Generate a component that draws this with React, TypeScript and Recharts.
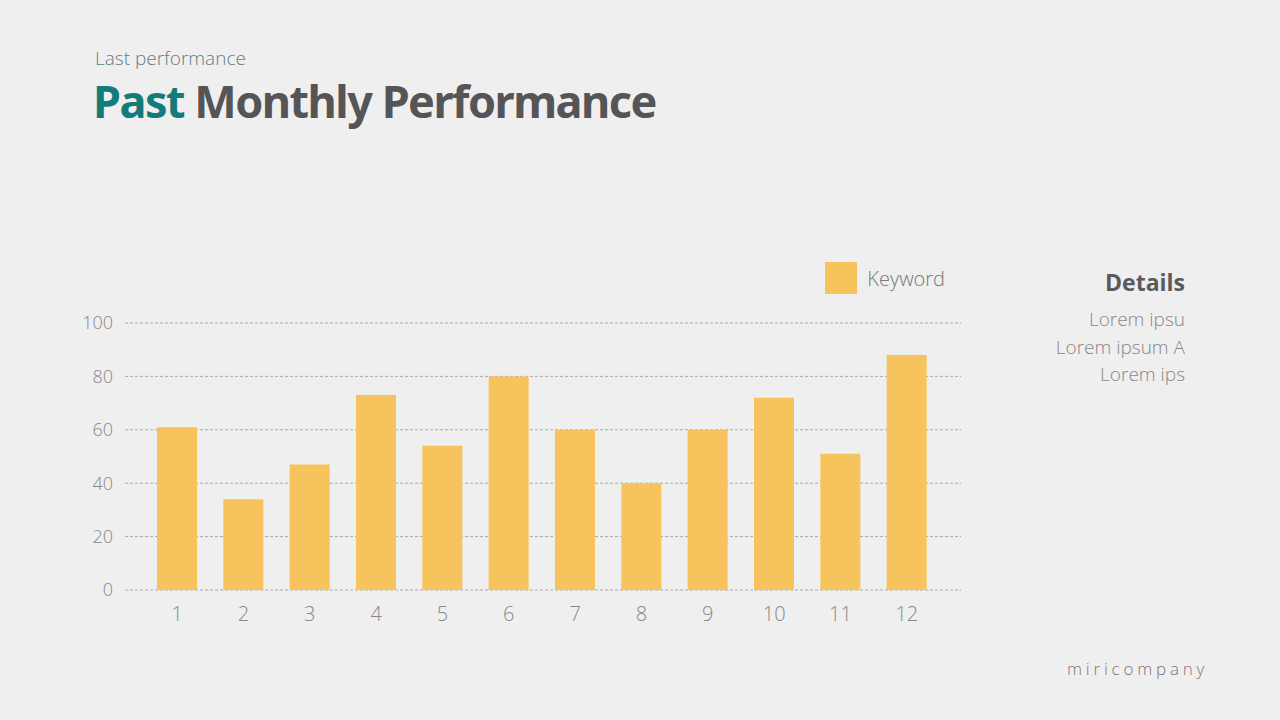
import React from "react";
import { BarChart, Bar, XAxis, YAxis, CartesianGrid, Legend } from "recharts";

const months = ["1", "2", "3", "4", "5", "6", "7", "8", "9", "10", "11", "12"];
const keywordValues = [61, 34, 47, 73, 54, 80, 60, 40, 60, 72, 51, 88];
const yTicks = [0, 20, 40, 60, 80, 100];
const detailLines = ["Lorem ipsu", "Lorem ipsum A", "Lorem ips"];

const data = months.map((m, i) => ({ month: m, Keyword: keywordValues[i] }));

const FONT = "'Open Sans', 'Noto Sans', sans-serif";

const LegendContent = (props: any) => {
  const items = props.payload || [];
  return (
    <div style={{ display: "flex", alignItems: "center", justifyContent: "flex-end", height: 32 }}>
      {items.map((it: any) => (
        <div key={it.value} style={{ display: "flex", alignItems: "center" }}>
          <div style={{ width: 32, height: 32, background: it.color, marginRight: 10 }} />
          <span style={{ fontFamily: FONT, fontWeight: 300, fontSize: 20, color: "#777" }}>{it.value}</span>
        </div>
      ))}
    </div>
  );
};

export default function App() {
  return (
    <div
      style={{
        position: "fixed",
        left: 0,
        top: 0,
        width: 1280,
        height: 720,
        background: "#efeff0",
        fontFamily: FONT,
        overflow: "hidden",
      }}
    >
      <div style={{ position: "absolute", left: 95, top: 45, fontSize: 19, fontWeight: 300, color: "#5f7f7f" }}>
        Last performance
      </div>
      <div
        style={{
          position: "absolute",
          left: 93,
          top: 70,
          fontSize: 45,
          fontWeight: 700,
          color: "#555557",
          fontFamily: "'Noto Sans', sans-serif",
          letterSpacing: -1.5,
          whiteSpace: "nowrap",
        }}
      >
        <span style={{ color: "#137b79" }}>Past</span> Monthly Performance
      </div>

      <div style={{ position: "absolute", left: 0, top: 0 }}>
        <BarChart
          width={1000}
          height={650}
          data={data}
          margin={{ top: 291, right: 39, bottom: 30, left: 85 }}
        >
          <CartesianGrid horizontal vertical={false} stroke="#a8a8a8" strokeDasharray="3 2" />
          <XAxis
            dataKey="month"
            axisLine={false}
            tickLine={false}
            padding={{ left: 19, right: 21 }}
            tick={{ fill: "#888", fontSize: 20, fontWeight: 300, fontFamily: FONT }}
            tickMargin={11}
            height={30}
          />
          <YAxis
            domain={[0, 100]}
            ticks={yTicks}
            axisLine={false}
            tickLine={false}
            width={40}
            tickMargin={6}
            tick={{ fill: "#888", fontSize: 18, fontWeight: 300, fontFamily: FONT }}
          />
          <Legend
            verticalAlign="top"
            align="right"
            content={<LegendContent />}
            wrapperStyle={{ position: "absolute", top: 262, left: 800, width: 145, height: 32 }}
          />
          <Bar dataKey="Keyword" fill="#f7c35c" barSize={40} isAnimationActive={false} />
        </BarChart>
      </div>

      <div style={{ position: "absolute", right: 95, top: 266, textAlign: "right" }}>
        <div style={{ fontSize: 23, fontWeight: 700, color: "#5a5a5c", lineHeight: "32px", marginBottom: 8 }}>
          Details
        </div>
        {detailLines.map((l) => (
          <div key={l} style={{ fontSize: 19, fontWeight: 300, color: "#888", lineHeight: "27.5px" }}>
            {l}
          </div>
        ))}
      </div>

      <div
        style={{
          position: "absolute",
          left: 1067,
          top: 657,
          fontSize: 17,
          fontWeight: 300,
          color: "#777",
          letterSpacing: 3.8,
        }}
      >
        miricompany
      </div>
    </div>
  );
}
